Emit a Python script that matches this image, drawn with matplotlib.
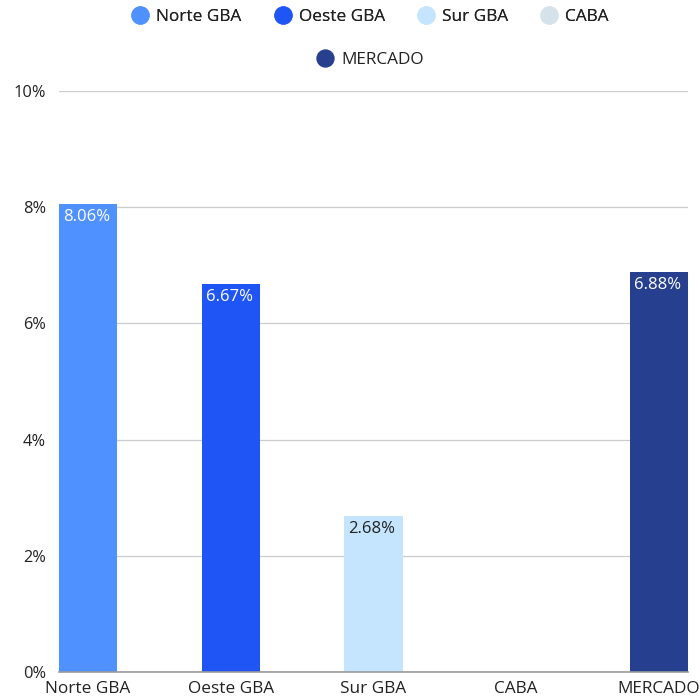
import matplotlib
matplotlib.use("Agg")
import matplotlib.pyplot as plt
from matplotlib.lines import Line2D

categories = ["Norte GBA", "Oeste GBA", "Sur GBA", "CABA", "MERCADO"]
values = [8.06, 6.67, 2.68, 0.0, 6.88]
colors = ["#4F91FF", "#1F55F5", "#C4E5FD", "#D6E2E9", "#26408F"]
label_colors = ["white", "white", "#222222", "#222222", "white"]
yticks = [0, 2, 4, 6, 8, 10]

plt.rcParams['font.family'] = ['Open Sans', 'DejaVu Sans']

W, H = 700, 699
fig = plt.figure(figsize=(W/100, H/100), dpi=100)
ax = fig.add_axes([59/W, (H-672)/H, (688-59)/W, (672-91)/H])

bw = 0.407
x = list(range(len(categories)))
ax.bar(x, values, width=bw, color=colors, zorder=3)
ax.set_xlim(-bw/2, len(categories)-1+bw/2)
ax.set_ylim(0, 10)
ax.set_yticks(yticks)
ax.set_yticklabels([f"{t}%" for t in yticks], fontsize=11.8, color="#222222")
ax.set_xticks(x)
ax.set_xticklabels(categories, fontsize=12.4, color="#222222")
ax.tick_params(axis='both', length=0)
ax.tick_params(axis='y', pad=9.5)
ax.tick_params(axis='x', pad=6.5)
ax.grid(axis='y', color="#cccccc", linewidth=0.9, zorder=0)
for s in ["top", "right", "left"]:
    ax.spines[s].set_visible(False)
ax.spines["bottom"].set_color("#999999")
ax.spines["bottom"].set_linewidth(1.2)
ax.spines["bottom"].set_zorder(4)

for xi, v, lc in zip(x, values, label_colors):
    if v > 0:
        ax.annotate(f"{v:.2f}%", (xi, v), xytext=(-1, -3.5), textcoords="offset points",
                    ha="center", va="top", fontsize=12, color=lc, zorder=5)

def handle(c):
    return Line2D([], [], marker='o', linestyle='none', markersize=12.2,
                  markerfacecolor=c, markeredgecolor=c)

leg_kw = dict(loc="center", frameon=False, fontsize=12.4, handletextpad=0.43,
              handlelength=1.0, labelcolor="#222222")
leg1 = fig.legend([handle(c) for c in colors[:4]], categories[:4], ncol=4,
                  bbox_to_anchor=(370/W, 1-17/H), columnspacing=1.88, **leg_kw)
fig.add_artist(leg1)
leg2 = fig.legend([handle(colors[4])], categories[4:], ncol=1,
                  bbox_to_anchor=(370/W, 1-60/H), **leg_kw)

fig.savefig("out.png", dpi=100)
